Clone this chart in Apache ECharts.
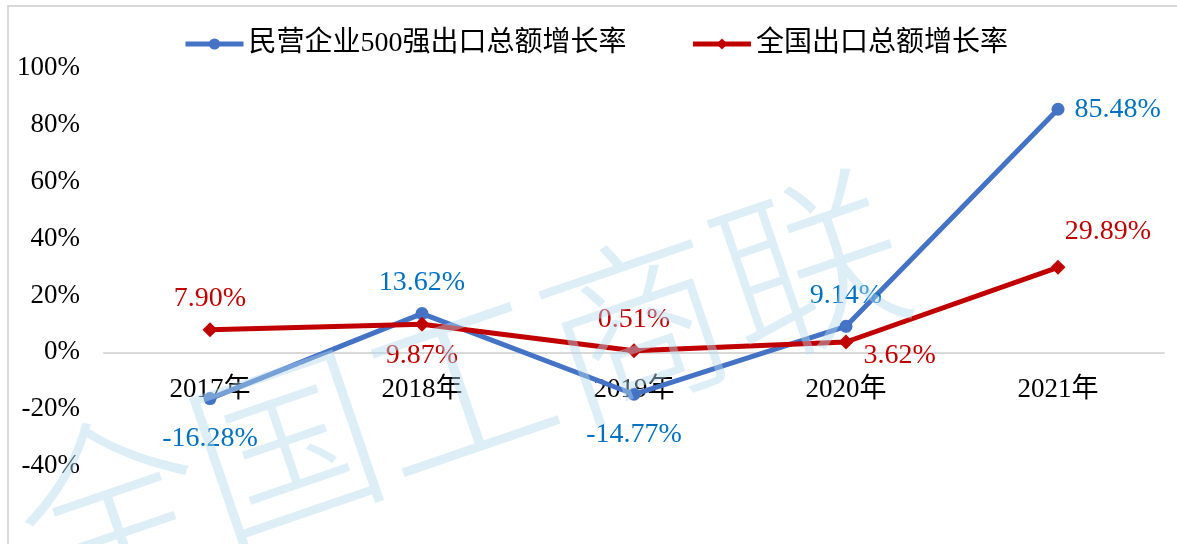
<!DOCTYPE html>
<html>
<head>
<meta charset="utf-8">
<script src="https://cdn.jsdelivr.net/npm/echarts@6/dist/echarts.min.js"></script>
<style>
html,body{margin:0;padding:0;background:#fff;}
#chart{width:1177px;height:544px;}
</style>
</head>
<body>
<div id="chart"></div>
<script>
// 数据
var years = ['2017年', '2018年', '2019年', '2020年', '2021年'];
var privateTop500 = [-16.28, 13.62, -14.77, 9.14, 85.48];
var national = [7.90, 9.87, 0.51, 3.62, 29.89];
var yTicks = [-40, -20, 0, 20, 40, 60, 80, 100];

// 每个点的标签位置
var bluePos = ['bottom', 'top', 'bottom', 'top', 'right'];
var redPos = ['top', 'bottom', 'top', 'right', 'top'];

var serif = '"Liberation Serif", "Times New Roman", "Noto Sans CJK SC", serif';

function makeData(vals, pos, color){
    var arr = [];
    for(var i = 0; i < vals.length; i++){
        var lab = {position: pos[i], color: color};
        if(pos[i] === 'right'){ lab.distance = 10; }
        arr.push({value: vals[i], label: lab});
    }
    return arr;
}
var redData = makeData(national, redPos, '#C00000');
redData[3].label.offset = [0, 14];
redData[4].label.offset = [50, -4];
var blueData = makeData(privateTop500, bluePos, '#0070C0');
blueData[0].label.offset = [0, 10];
blueData[2].label.offset = [0, 10];

// 0 线位置（x轴标签跟随0线）
var plotTop = 68, plotBottom = 78, plotH = 544 - plotTop - plotBottom;
var zeroOffset = -plotH * (0 - yTicks[0]) / (yTicks[yTicks.length - 1] - yTicks[0]);

var option = {
    animation: false,
    backgroundColor: '#fff',
    textStyle: {fontFamily: serif},
    legend: {
        top: 25,
        left: 178,
        itemWidth: 58,
        itemHeight: 14,
        itemGap: 64,
        lineStyle: {width: 5},
        textStyle: {fontSize: 28, color: '#000', fontFamily: serif},
        data: ['民营企业500强出口总额增长率', '全国出口总额增长率']
    },
    grid: {left: 104, right: 13, top: plotTop, bottom: plotBottom, containLabel: false},
    xAxis: {
        type: 'category',
        data: years,
        boundaryGap: true,
        offset: zeroOffset,
        axisLine: {onZero: false, lineStyle: {color: '#D9D9D9', width: 2}},
        axisTick: {show: false},
        axisLabel: {fontSize: 27, color: '#000', margin: 24, fontFamily: serif}
    },
    yAxis: {
        type: 'value',
        min: yTicks[0],
        max: yTicks[yTicks.length - 1],
        interval: 20,
        splitLine: {show: false},
        axisLine: {show: false},
        axisTick: {show: false},
        axisLabel: {fontSize: 27, color: '#000', margin: 24, fontFamily: serif,
            formatter: '{value}%'}
    },
    graphic: [
        {type: 'rect', z: -1, shape: {x: 8, y: 6, width: 1300, height: 700},
         style: {fill: 'none', stroke: '#D9D9D9', lineWidth: 2}},
        {type: 'text', z: 100, x: 460, y: 385, rotation: 0.33,
         style: {text: '全国工商联', font: '300 185px "Noto Sans CJK SC"',
            align: 'center', verticalAlign: 'middle',
            fill: 'rgba(180,218,238,0.45)'}}
    ],
    series: [
        {
            name: '民营企业500强出口总额增长率',
            type: 'line',
            data: blueData,
            symbol: 'circle',
            symbolSize: 13,
            lineStyle: {width: 5, color: '#4472C4'},
            itemStyle: {color: '#4472C4'},
            label: {show: true, fontSize: 28, fontFamily: serif, distance: 10,
                formatter: function(p){ return p.value.toFixed(2) + '%'; }}
        },
        {
            name: '全国出口总额增长率',
            type: 'line',
            data: redData,
            symbol: 'diamond',
            symbolSize: 15,
            lineStyle: {width: 5, color: '#C00000'},
            itemStyle: {color: '#C00000'},
            label: {show: true, fontSize: 28, fontFamily: serif, distance: 10,
                formatter: function(p){ return p.value.toFixed(2) + '%'; }}
        }
    ]
};

var chart = echarts.init(document.getElementById('chart'));
chart.setOption(option);
</script>
</body>
</html>
